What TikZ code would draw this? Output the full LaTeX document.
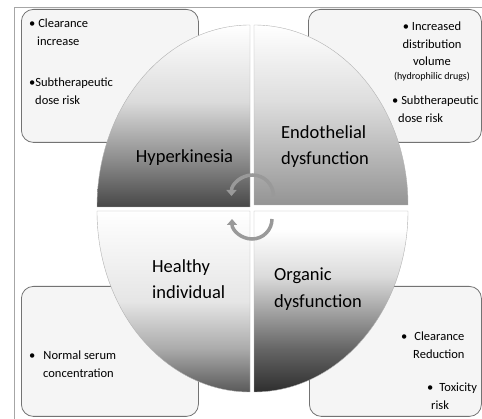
\documentclass[tikz,border=0pt]{standalone}
\usepackage{fontspec}
\setmainfont{Carlito}
\usetikzlibrary{arrows.meta}

\pgfdeclareverticalshading{hypershade}{100bp}{color(0bp)=(black!72); color(25bp)=(black!72); color(38bp)=(black!45); color(54bp)=(black!14); color(75bp)=(white); color(100bp)=(white)}
\pgfdeclareverticalshading{endoshade}{100bp}{color(0bp)=(black!42); color(25bp)=(black!42); color(54bp)=(black!13); color(75bp)=(white); color(100bp)=(white)}
\pgfdeclareverticalshading{healthshade}{100bp}{color(0bp)=(black!65); color(25bp)=(black!65); color(37bp)=(black!33); color(50bp)=(black!10); color(75bp)=(white); color(100bp)=(white)}
\pgfdeclareverticalshading{organshade}{100bp}{color(0bp)=(black!82); color(25bp)=(black!82); color(37bp)=(black!60); color(50bp)=(black!30); color(57bp)=(black!14); color(70bp)=(white); color(100bp)=(white)}

\tikzstyle{infobox} = [rectangle, rounded corners=12pt, draw=black!55, fill=black!4, line width=0.8pt, anchor=north west, inner sep=0pt]
\tikzstyle{slice} = [draw=black!30, line width=0.4pt]
\tikzstyle{slicetext} = [font=\fontsize{18.5}{26.5}\selectfont, align=left, inner sep=0pt, anchor=north west]
\tikzstyle{notetext} = [font=\fontsize{12.5}{17.5}\selectfont, align=left, inner sep=0pt, anchor=north west]
\tikzstyle{turnarrow} = [draw=black!40, line width=3.5pt, -{Triangle[length=6pt, width=10pt]}]

\begin{document}
\begin{tikzpicture}[x=1pt, y=1pt]

  \useasboundingbox (0,0) rectangle (482,-419);
  \draw [black!35, line width=0.8pt] (14,-419) -- (14,-7) -- (482,-7);

  % --- %

  \node (hyperbox) [infobox, minimum width=177pt, minimum height=133pt] at (21,-9) {};
  \node (endobox) [infobox, minimum width=173pt, minimum height=133pt] at (308,-9) {};
  \node (healthbox) [infobox, minimum width=177pt, minimum height=130pt] at (21,-286) {};
  \node (organbox) [infobox, minimum width=172pt, minimum height=130pt] at (309,-286) {};

  % --- %

  \shadedraw [slice, shading=hypershade] (250,-207) -- ++(-153,0) arc [start angle=180, end angle=90, x radius=153pt, y radius=182pt] -- cycle;
  \shadedraw [slice, shading=endoshade] (254,-205) -- ++(154,0) arc [start angle=0, end angle=90, x radius=154pt, y radius=180pt] -- cycle;
  \shadedraw [slice, shading=healthshade] (250,-211) -- ++(-153,0) arc [start angle=180, end angle=270, x radius=153pt, y radius=181pt] -- cycle;
  \shadedraw [slice, shading=organshade] (254,-211) -- ++(154,0) arc [start angle=0, end angle=-90, x radius=154pt, y radius=181pt] -- cycle;

  \draw [turnarrow] (273.5,-196) arc [start angle=0, end angle=180, radius=21pt];
  \draw [turnarrow] (272,-219) arc [start angle=0, end angle=-180, radius=20pt];

  % --- %

  \node (hyper) [slicetext, anchor=base] at (184.5,-163) {Hyperkinesia};
  \node (endo) [slicetext] at (281,-125) {Endothelial\\dysfunction};
  \node (healthy) [slicetext] at (152,-259) {Healthy\\individual};
  \node (organ) [slicetext] at (274,-268) {Organic\\dysfunction};

  \node (hypernote1) [notetext] at (29,-19) {\textbullet\ Clearance\\\hspace*{8pt}increase};
  \node (hypernote2) [notetext] at (29,-78) {\textbullet Subtherapeutic\\\hspace*{6pt}dose risk};
  \node (endonote1) [notetext, align=center, anchor=north] at (432,-22) {\textbullet\ Increased\\distribution\\volume\\[-4pt]{\fontsize{10}{13}\selectfont(hydrophilic drugs)}};
  \node (endonote2) [notetext] at (392,-96) {\textbullet\ Subtherapeutic\\\hspace*{6pt}dose risk};
  \node (healthnote) [notetext] at (29,-351) {\textbullet\hspace{8pt}Normal serum\\\hspace*{14pt}concentration};
  \node (organnote1) [notetext] at (401,-332) {\textbullet\hspace{7pt}Clearance\\\hspace*{12pt}Reduction};
  \node (organnote2) [notetext] at (427,-383) {\textbullet\hspace{6pt}Toxicity\\\hspace*{4pt}risk};

\end{tikzpicture}
\end{document}
